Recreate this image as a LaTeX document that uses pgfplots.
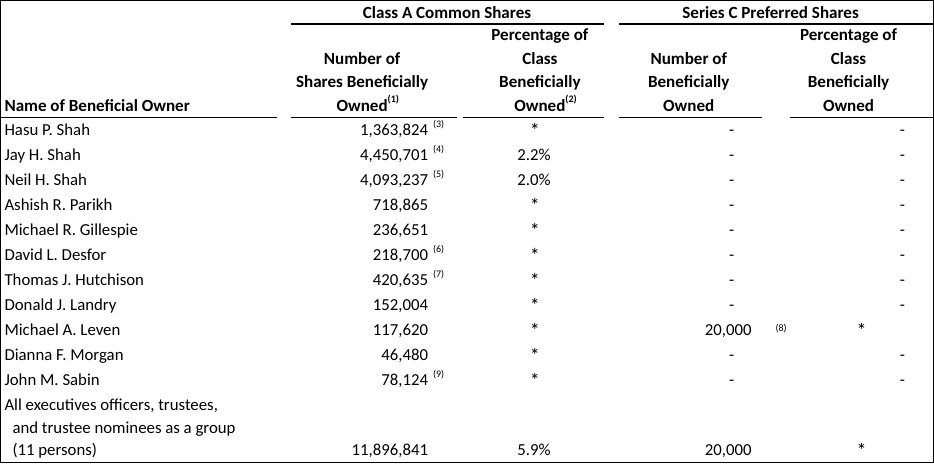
\documentclass[border=0pt]{standalone}
\usepackage{pgfplots}
\pgfplotsset{compat=1.18}
\usepackage{fontspec}
\setmainfont{Carlito}
\newcommand{\sx}[1]{\raisebox{0.5em}{\fontsize{7.5}{8}\selectfont(#1)}}
\newcommand{\fn}[1]{{\fontsize{7.5}{8}\selectfont(#1)}}
\newcommand{\st}{{\fontsize{15}{15}\selectfont*}}
\tikzset{t/.style={inner sep=0pt, outer sep=0pt, font=\fontsize{12.6}{15}\selectfont},
         h/.style={inner sep=0pt, outer sep=0pt, font=\fontsize{12.8}{15}\selectfont\bfseries}}
\begin{document}
\begin{tikzpicture}
\begin{axis}[
  width=700.5pt, height=347.25pt, scale only axis,
  xmin=0, xmax=934, ymin=0, ymax=463, y dir=reverse,
  axis lines=box, xtick=\empty, ytick=\empty,
  axis line style={line width=0.75pt, black},
  clip=false,
]
% underlines
\addplot[black, line width=0.8pt, mark=none] coordinates {(291,23.5)(604,23.5)};
\addplot[black, line width=0.8pt, mark=none] coordinates {(619,23.5)(934,23.5)};
\addplot[black, line width=0.8pt, mark=none] coordinates {(0,117.5)(277,117.5)};
\addplot[black, line width=0.8pt, mark=none] coordinates {(291,117.5)(457,117.5)};
\addplot[black, line width=0.8pt, mark=none] coordinates {(463,117.5)(604,117.5)};
\addplot[black, line width=0.8pt, mark=none] coordinates {(619,117.5)(762,117.5)};
\addplot[black, line width=0.8pt, mark=none] coordinates {(790,117.5)(934,117.5)};
% headers
\node[h,anchor=base] at (axis cs:447,18) {Class A Common Shares};
\node[h,anchor=base] at (axis cs:771,18) {Series C Preferred Shares};
\node[h,anchor=base west] at (axis cs:4,111) {Name of Beneficial Owner};
\node[h,anchor=base] at (axis cs:362,64) {Number of};
\node[h,anchor=base] at (axis cs:362,87) {Shares Beneficially};
\node[h,anchor=base] at (axis cs:362,111) {Owned\rlap{\sx{1}}};
\node[h,anchor=base] at (axis cs:540,40) {Percentage of};
\node[h,anchor=base] at (axis cs:540,64) {Class};
\node[h,anchor=base] at (axis cs:540,87) {Beneficially};
\node[h,anchor=base] at (axis cs:540,111) {Owned\rlap{\sx{2}}};
\node[h,anchor=base] at (axis cs:689,64) {Number of};
\node[h,anchor=base] at (axis cs:689,87) {Beneficially};
\node[h,anchor=base] at (axis cs:689,111) {Owned};
\node[h,anchor=base] at (axis cs:849,40) {Percentage of};
\node[h,anchor=base] at (axis cs:849,64) {Class};
\node[h,anchor=base] at (axis cs:849,87) {Beneficially};
\node[h,anchor=base] at (axis cs:849,111) {Owned};
% names
\node[t,anchor=base west] at (axis cs:4,135) {Hasu P. Shah};
\node[t,anchor=base west] at (axis cs:4,160) {Jay H. Shah};
\node[t,anchor=base west] at (axis cs:4,185) {Neil H. Shah};
\node[t,anchor=base west] at (axis cs:4,210) {Ashish R. Parikh};
\node[t,anchor=base west] at (axis cs:4,235) {Michael R. Gillespie};
\node[t,anchor=base west] at (axis cs:4,260) {David L. Desfor};
\node[t,anchor=base west] at (axis cs:4,285) {Thomas J. Hutchison};
\node[t,anchor=base west] at (axis cs:4,310) {Donald J. Landry};
\node[t,anchor=base west] at (axis cs:4,335) {Michael A. Leven};
\node[t,anchor=base west] at (axis cs:4,360) {Dianna F. Morgan};
\node[t,anchor=base west] at (axis cs:4,385) {John M. Sabin};
\node[t,anchor=base west] at (axis cs:4,410) {All executives officers, trustees,};
\node[t,anchor=base west] at (axis cs:12,433) {and trustee nominees as a group};
\node[t,anchor=base west] at (axis cs:12,456) {(11 persons)};
% share numbers
\node[t,anchor=base east] at (axis cs:428,135) {1,363,824};
\node[t,anchor=base east] at (axis cs:428,160) {4,450,701};
\node[t,anchor=base east] at (axis cs:428,185) {4,093,237};
\node[t,anchor=base east] at (axis cs:428,210) {718,865};
\node[t,anchor=base east] at (axis cs:428,235) {236,651};
\node[t,anchor=base east] at (axis cs:428,260) {218,700};
\node[t,anchor=base east] at (axis cs:428,285) {420,635};
\node[t,anchor=base east] at (axis cs:428,310) {152,004};
\node[t,anchor=base east] at (axis cs:428,335) {117,620};
\node[t,anchor=base east] at (axis cs:428,360) {46,480};
\node[t,anchor=base east] at (axis cs:428,385) {78,124};
\node[t,anchor=base east] at (axis cs:428,456) {11,896,841};
% footnotes
\node[t,anchor=base west] at (axis cs:433,127) {\fn{3}};
\node[t,anchor=base west] at (axis cs:433,152) {\fn{4}};
\node[t,anchor=base west] at (axis cs:433,177) {\fn{5}};
\node[t,anchor=base west] at (axis cs:433,252) {\fn{6}};
\node[t,anchor=base west] at (axis cs:433,277) {\fn{7}};
\node[t,anchor=base west] at (axis cs:433,377) {\fn{9}};
\node[t,anchor=base west] at (axis cs:776,331) {\fn{8}};
% class A pct
\pgfplotsinvokeforeach{135,210,235,260,285,310,335,360,385}{\node[t,anchor=base] at (axis cs:535,#1+2) {\st};}
\node[t,anchor=base] at (axis cs:534,160) {2.2\%};
\node[t,anchor=base] at (axis cs:534,185) {2.0\%};
\node[t,anchor=base] at (axis cs:534,456) {5.9\%};
% series C
\pgfplotsinvokeforeach{135,160,185,210,235,260,285,310,360,385}{
  \node[t,anchor=base] at (axis cs:732,#1) {-};
  \node[t,anchor=base] at (axis cs:903,#1) {-};
}
\node[t,anchor=base east] at (axis cs:752,335) {20,000};
\node[t,anchor=base east] at (axis cs:752,456) {20,000};
\node[t,anchor=base] at (axis cs:862,337) {\st};
\node[t,anchor=base] at (axis cs:862,458) {\st};
\end{axis}
\end{tikzpicture}
\end{document}
